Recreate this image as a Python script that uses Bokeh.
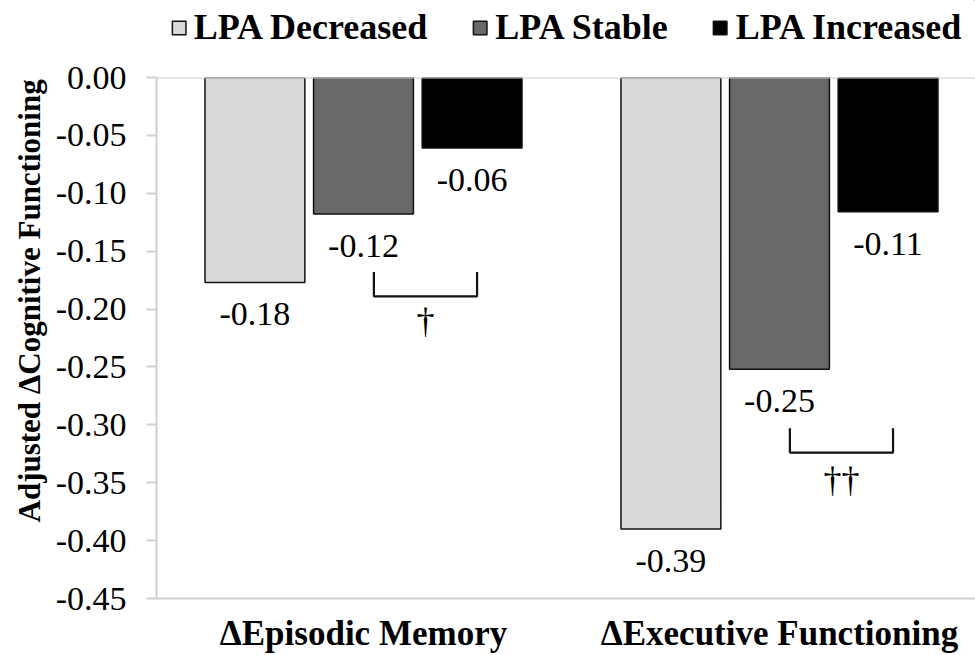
from bokeh.plotting import figure
from bokeh.layouts import column
from bokeh.models import (ColumnDataSource, Range1d, FixedTicker, NumeralTickFormatter,
                          Legend, LegendItem, Title)
from bokeh.core.properties import value
from bokeh.embed import file_html
from bokeh.resources import INLINE

# ---- data ----
categories = ["\u0394Episodic Memory", "\u0394Executive Functioning"]
series = ["LPA Decreased", "LPA Stable", "LPA Increased"]
decreased = [-0.177, -0.390]
stable = [-0.118, -0.252]
increased = [-0.061, -0.116]
value_labels = [["-0.18", "-0.39"], ["-0.12", "-0.25"], ["-0.06", "-0.11"]]
colors = ["#d9d9d9", "#686868", "#000000"]
y_ticks = [0.0, -0.05, -0.10, -0.15, -0.20, -0.25, -0.30, -0.35, -0.40, -0.45]
bracket_top = [-0.168, -0.303]
bracket_bottom = [-0.189, -0.324]
dagger_y = [-0.210, -0.348]
dagger_text = ["\u2020", "\u2020\u2020"]
y_title = "Adjusted \u0394Cognitive Functioning"

SERIF = "Liberation Serif"
base_x = [0, 1]
offset = 0.261
bar_w = 0.240
X0, X1 = -0.4976, 1.4712

p = figure(frame_width=819, frame_height=521, output_backend="svg", toolbar_location=None,
           x_range=Range1d(X0, X1), y_range=Range1d(-0.45, 0.0),
           min_border_left=156, min_border_top=23, min_border_bottom=55,
           min_border_right=0)
p.outline_line_color = None
p.xgrid.grid_line_color = None
p.ygrid.grid_line_color = None
p.background_fill_color = "white"
p.border_fill_color = "white"

all_vals = [decreased, stable, increased]
for i, (vals, col) in enumerate(zip(all_vals, colors)):
    xs = [b + (i - 1) * offset for b in base_x]
    src = ColumnDataSource(dict(x=xs, top=[0, 0], bottom=vals, lab=value_labels[i]))
    p.vbar(x="x", width=bar_w, top="top", bottom="bottom", source=src,
           fill_color=col, line_color="#111111", line_width=1.5)
    p.text(x="x", y="bottom", text="lab", source=src, text_align="center",
           text_baseline="middle", y_offset=32, text_font=value(SERIF),
           text_font_size="34px", text_color="#000000")

# zero line at top
p.line(x=[X0, X1], y=[0, 0], line_color="#d0d0d0", line_width=2)

# significance brackets
bx_l = [b + 0.025 for b in base_x]
bx_r = [b + offset + 0.012 for b in base_x]
xs_lines = [[l, l, r, r] for l, r in zip(bx_l, bx_r)]
ys_lines = [[t, bb, bb, t] for t, bb in zip(bracket_top, bracket_bottom)]
p.multi_line(xs=xs_lines, ys=ys_lines, line_color="#111111", line_width=2.2)
p.text(x=[(l + r) / 2 for l, r in zip(bx_l, bx_r)], y=dagger_y, text=dagger_text,
       text_align="center", text_baseline="middle", text_font=value(SERIF),
       text_font_size="36px", text_color="#000000")

# axes
p.yaxis.ticker = FixedTicker(ticks=y_ticks)
p.yaxis.formatter = NumeralTickFormatter(format="0.00")
p.yaxis.major_label_text_font = SERIF
p.yaxis.major_label_text_font_size = "34px"
p.yaxis.major_label_text_color = "#000000"
p.yaxis.axis_line_color = "#d0d0d0"
p.yaxis.axis_line_width = 2
p.yaxis.major_tick_line_color = "#d0d0d0"
p.yaxis.major_tick_line_width = 2
p.yaxis.major_tick_out = 10
p.yaxis.major_tick_in = 0
p.yaxis.minor_tick_line_color = None
p.yaxis.major_label_standoff = 20

p.add_layout(Title(text=y_title, align="left", offset=76, text_font=SERIF,
                   text_font_style="bold", text_font_size="31px",
                   text_color="#000000", standoff=11), "left")

p.xaxis.ticker = FixedTicker(ticks=base_x)
p.xaxis.major_label_overrides = {b: c for b, c in zip(base_x, categories)}
p.xaxis.major_label_text_font = SERIF
p.xaxis.major_label_text_font_style = "bold"
p.xaxis.major_label_text_font_size = "35px"
p.xaxis.major_label_text_color = "#000000"
p.xaxis.axis_line_color = "#d0d0d0"
p.xaxis.axis_line_width = 2
p.xaxis.major_tick_line_color = None
p.xaxis.major_tick_out = 0
p.xaxis.major_tick_in = 0
p.xaxis.minor_tick_line_color = None
p.xaxis.minor_tick_out = 0
p.xaxis.major_label_standoff = 15

# ---- legend strip ----
lg = figure(frame_width=819, frame_height=54, output_backend="svg", toolbar_location=None,
            x_range=Range1d(0, 1), y_range=Range1d(0, 1),
            min_border_left=156, min_border_right=0, min_border_top=0, min_border_bottom=0)
lg.axis.visible = False
lg.grid.grid_line_color = None
lg.outline_line_color = None
items = []
for s, col in zip(series, colors):
    r = lg.vbar(x=[5], width=0.1, top=[5], bottom=[4], fill_color=col,
                line_color="#111111", line_width=1.5)
    items.append(LegendItem(label=s, renderers=[r]))
legend = Legend(items=items, orientation="horizontal", location="center")
legend.label_text_font = SERIF
legend.label_text_font_style = "bold"
legend.label_text_font_size = "36px"
legend.label_text_color = "#000000"
legend.glyph_width = 17
legend.glyph_height = 17
legend.label_standoff = 7
legend.spacing = 44
legend.padding = 0
legend.margin = 0
legend.border_line_color = None
legend.background_fill_alpha = 0
lg.add_layout(legend, "center")

layout = column(lg, p, spacing=0)
open("out.html", "w").write(file_html(layout, INLINE))
